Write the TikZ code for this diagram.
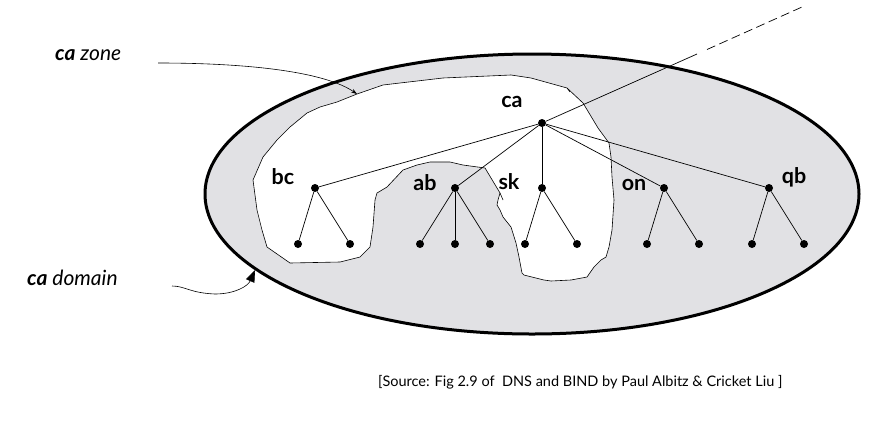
\documentclass[tikz,border=0pt]{standalone}
\usepackage{fontspec}
\setmainfont{Lato}
\usetikzlibrary{arrows.meta}
\definecolor{zonegray}{RGB}{225,225,228}
\begin{document}
\begin{tikzpicture}[x=1pt,y=-1pt,
  edge/.style={line width=0.7pt},
  thin line/.style={line width=0.6pt},
  dot/.style={circle,fill=black,inner sep=0pt,minimum size=8pt},
  lbl/.style={font=\fontsize{21.5}{22}\selectfont\bfseries,inner sep=0pt},
  side/.style={font=\fontsize{21}{22}\selectfont\itshape,inner sep=0pt,anchor=west},
  captiontext/.style={font=\fontsize{14.5}{16}\selectfont,inner sep=0pt,anchor=west}]
\useasboundingbox (0,0) rectangle (888,421);
\fill[white] (0,0) rectangle (888,421);
% domain ellipse
\draw[line width=3pt, fill=zonegray] (532,194) ellipse [x radius=327pt, y radius=140pt];
% zone region
\filldraw[fill=white, thin line] (357,94) -- (383,85) -- (400,83) -- (443,78) -- (511,75) -- (531,78) -- (567,88)
 -- (583,103) -- (598,128) -- (609,143) -- (611,157) -- (612,177) -- (614,200) -- (612,230) -- (609,247)
 -- (606,257) -- (601,260) -- (594,267) -- (587,277) -- (571,280) -- (551,281) -- (544,280) -- (524,275)
 -- (522,273) -- (519,257) -- (516,243) -- (511,227) -- (503,217) -- (500,210) -- (497,205) -- (498,200)
 -- (500,193) -- (485,168) -- (463,165) -- (450,162) -- (430,162) -- (417,165) -- (403,170) -- (387,187)
 -- (377,193) -- (375,200) -- (373,227) -- (370,247) -- (360,257) -- (340,262) -- (290,263) -- (267,247)
 -- (262,230) -- (257,210) -- (253,180) -- (263,157) -- (277,140) -- (290,127) -- (307,113) -- (320,107)
 -- (337,102) -- cycle;
\draw[thin line] (500,193) -- (503,200);
\draw[thin line] (567,88) -- (570,92);
% nodes
\node[dot] (ca) at (542,123) {};
\node[dot] (bc) at (315,188) {};
\node[dot] (ab) at (455,188) {};
\node[dot] (sk) at (542,188) {};
\node[dot] (on) at (664,188) {};
\node[dot] (qb) at (769,188) {};
\foreach \n/\x in {bc1/298,bc2/350,ab1/420,ab2/455,ab3/490,sk1/525,sk2/577,on1/647,on2/699,qb1/752,qb2/804}
  \node[dot] (\n) at (\x,244) {};
% labels
\node[lbl] (lca) at (512,102) {ca};
\node[lbl] (lbc) at (283,177) {bc};
\node[lbl] (lab) at (425,183) {ab};
\node[lbl] (lsk) at (509,182) {sk};
\node[lbl] (lon) at (634,185) {on};
\node[lbl] (lqb) at (794,177) {qb};
% edges
\foreach \c in {bc,ab,sk,on,qb} \draw[edge] (ca) -- (\c);
\foreach \p/\c in {bc/bc1,bc/bc2,ab/ab1,ab/ab2,ab/ab3,sk/sk1,sk/sk2,on/on1,on/on2,qb/qb1,qb/qb2}
  \draw[edge] (\p) -- (\c);
% link to parent
\coordinate (solidend) at (697,54);
\coordinate (dashstart) at (707,49.5);
\coordinate (dashend) at (802,7);
\draw[edge] (ca) -- (solidend);
\draw[edge, dash pattern=on 9pt off 4.5pt] (dashstart) -- (dashend);
% side labels and arrows
\node[side] (zone) at (55,55) {\textbf{ca} zone};
\node[side] (domain) at (27,278) {\textbf{ca} domain};
\coordinate (zs) at (158,63);
\coordinate (zt) at (357,94);
\draw[thin line, -{Stealth[length=6pt,width=4pt]}] (zs) .. controls (250,63) and (325,72) .. (zt);
\coordinate (ds) at (172,286);
\coordinate (dt) at (255,270);
\draw[thin line, -{Triangle[length=12pt,width=9pt]}] (ds) .. controls (185,286) and (190,293) .. (215,294)
  .. controls (235,294) and (248,286) .. (dt);
% caption
\node[captiontext] (caption) at (378,382) {[Source: Fig 2.9 of\ \ DNS and BIND by Paul Albitz \& Cricket Liu ]};
\end{tikzpicture}
\end{document}
